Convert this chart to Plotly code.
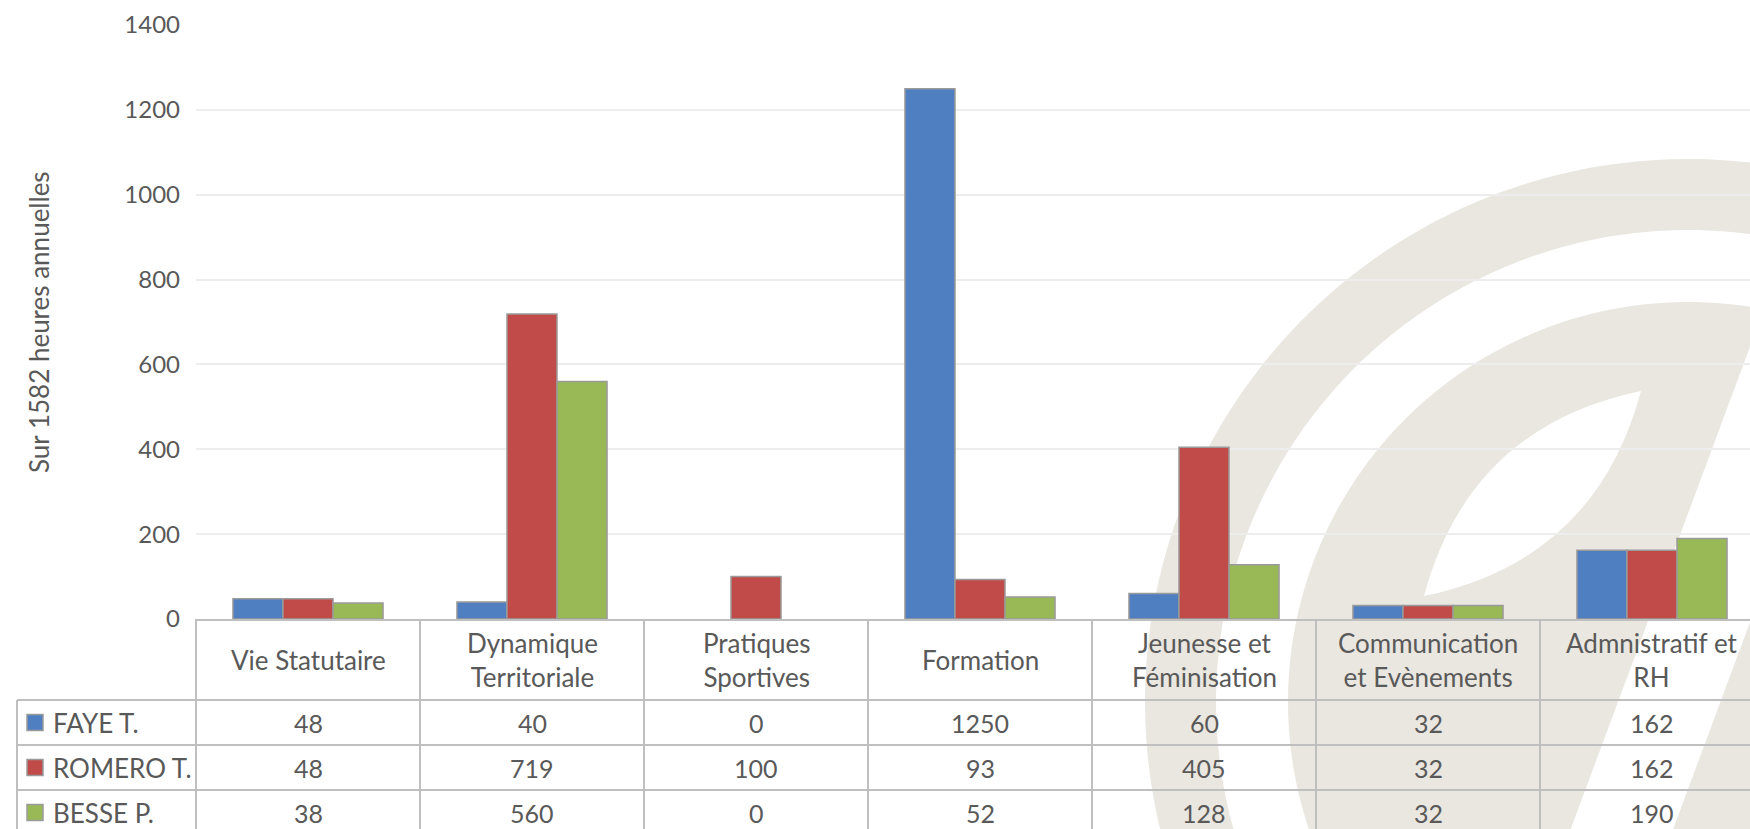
import numpy as np
import plotly.graph_objects as go

# ---------------- data ----------------
categories = ["Vie Statutaire", "Dynamique<br>Territoriale", "Pratiques<br>Sportives",
              "Formation", "Jeunesse et<br>Féminisation", "Communication<br>et Evènements",
              "Admnistratif et<br>RH"]
series_names = ["FAYE T.", "ROMERO T.", "BESSE P."]
faye = [48, 40, 0, 1250, 60, 32, 162]
romero = [48, 719, 100, 93, 405, 32, 162]
besse = [38, 560, 0, 52, 128, 32, 190]
y_ticks = [0, 200, 400, 600, 800, 1000, 1200, 1400]
y_title = "Sur 1582 heures annuelles"

series_values = [faye, romero, besse]
series_colors = ["#4F7FC0", "#C04B48", "#98B955"]

# ---------------- geometry (pixels) ----------------
FIG_W, FIG_H = 1750, 829
L, T = 196, 25            # plot left / top
ZERO_Y = 619              # plot bottom (y=0)
PW = FIG_W - L
PH = ZERO_Y - T
COL_W = 224
XMIN = -0.5
XMAX = XMIN + PW / COL_W
FONT = "Lato"
FS_TXT = 26
FS_NUM = 25
FS_TICK = 24
TXT = "#595959"
LINE = "#BFBFBF"
WM = "#E9E7E0"

def px_x(X):
    return (X - L) / PW

def px_y(Y):
    return (ZERO_Y - Y) / PH

def cat_x_paper(v):
    return (v - XMIN) / (XMAX - XMIN)

fig = go.Figure()
x_idx = list(range(len(categories)))
for name, vals, col in zip(series_names, series_values, series_colors):
    fig.add_trace(go.Bar(x=x_idx, y=vals, name=name,
                         marker=dict(color=col,
                                     line=dict(color="#9A9A9A",
                                               width=[0 if v == 0 else 1.5 for v in vals]))))

shapes = []

# ---- watermark (background logo) ----
def _pt(x, y):
    return f"{px_x(x):.5f},{px_y(y):.5f}"

def circle_pts(cx, cy, r, n=240, rev=False):
    a = np.linspace(0, 2 * np.pi, n)
    if rev:
        a = a[::-1]
    return [(cx + r * np.cos(t), cy + r * np.sin(t)) for t in a]

def sub_path(pts):
    return "M " + " L ".join(_pt(x, y) for x, y in pts) + " Z"

def ring_path(cx, cy, ro, ri):
    p = sub_path(circle_pts(cx, cy, ro))
    if ri > 0:
        p += " " + sub_path(circle_pts(cx, cy, ri, rev=True))
    return p

def lens_path(p1, p2, half_w):
    p1 = np.array(p1, float); p2 = np.array(p2, float)
    m = (p1 + p2) / 2
    d = p2 - p1
    nrm = np.array([-d[1], d[0]]) / np.linalg.norm(d)
    c1 = m + 2 * half_w * nrm
    c2 = m - 2 * half_w * nrm
    return f"M {_pt(*p1)} Q {_pt(*c1)} {_pt(*p2)} Q {_pt(*c2)} {_pt(*p1)} Z"

def band_path(p1, p2, half_w):
    p1 = np.array(p1, float); p2 = np.array(p2, float)
    d = p2 - p1
    nrm = np.array([-d[1], d[0]]) / np.linalg.norm(d) * half_w
    pts = [p1 + nrm, p2 + nrm, p2 - nrm, p1 - nrm]
    return sub_path([tuple(p) for p in pts])

CX, CY = 1688, 702
wm_shapes = [
    (ring_path(CX, CY, 543, 472), WM),
    (ring_path(CX, CY, 400, 0), WM),
    (lens_path((1424, 596), (1641, 391), 46), "white"),
    (band_path((1590, 915), (1800, 350), 48), "white"),
]
for path, fc in wm_shapes:
    shapes.append(dict(type="path", xref="paper", yref="paper", layer="below",
                       path=path, fillcolor=fc, line=dict(width=0)))

# ---- data table grid ----
ROW_TOP = 700
ROW_H = 45
row_lines = [ROW_TOP + i * ROW_H for i in range(4)]
for Y in row_lines:
    shapes.append(dict(type="line", xref="paper", yref="paper",
                       x0=px_x(17), x1=px_x(FIG_W + 20), y0=px_y(Y), y1=px_y(Y),
                       line=dict(color=LINE, width=2)))
shapes.append(dict(type="line", xref="paper", yref="paper",
                   x0=px_x(17), x1=px_x(17), y0=px_y(ROW_TOP), y1=px_y(FIG_H + 20),
                   line=dict(color=LINE, width=2)))
for k in range(len(categories) + 1):
    xp = cat_x_paper(k - 0.5)
    shapes.append(dict(type="line", xref="paper", yref="paper",
                       x0=xp, x1=xp, y0=0, y1=px_y(FIG_H + 20),
                       line=dict(color=LINE, width=2)))

annotations = []
HEADER_CY = (ZERO_Y + ROW_TOP) / 2
for i, c in enumerate(categories):
    annotations.append(dict(x=i, xref="x", y=px_y(HEADER_CY), yref="paper",
                            text=c, showarrow=False, xanchor="center", yanchor="middle",
                            font=dict(family=FONT, size=FS_TXT, color=TXT)))
for r, (name, vals, col) in enumerate(zip(series_names, series_values, series_colors)):
    cy = ROW_TOP + ROW_H * r + ROW_H / 2
    for i, v in enumerate(vals):
        annotations.append(dict(x=i, xref="x", y=px_y(cy), yref="paper",
                                text=str(v), showarrow=False, xanchor="center", yanchor="middle",
                                font=dict(family=FONT, size=FS_NUM, color=TXT)))
    annotations.append(dict(x=px_x(51), xref="paper", y=px_y(cy), yref="paper",
                            text=name, showarrow=False, xanchor="left", yanchor="middle",
                            font=dict(family=FONT, size=FS_TXT, color=TXT)))
    shapes.append(dict(type="rect", xref="paper", yref="paper",
                       x0=px_x(27), x1=px_x(43), y0=px_y(cy - 8), y1=px_y(cy + 8),
                       fillcolor=col, line=dict(color="#9A9A9A", width=1.5)))

annotations.append(dict(x=px_x(39), xref="paper", y=0.5, yref="paper", text=y_title,
                        textangle=-90, showarrow=False, xanchor="center", yanchor="middle",
                        font=dict(family=FONT, size=FS_TXT, color=TXT)))

fig.update_layout(
    width=FIG_W, height=FIG_H,
    margin=dict(l=L, r=0, t=T, b=FIG_H - ZERO_Y, pad=0),
    paper_bgcolor="white", plot_bgcolor="rgba(0,0,0,0)",
    barmode="group", bargap=0.33, bargroupgap=0,
    showlegend=False,
    shapes=shapes, annotations=annotations,
    font=dict(family=FONT, size=FS_NUM, color=TXT),
    xaxis=dict(range=[XMIN, XMAX], showticklabels=False, showgrid=False, zeroline=False,
               showline=True, linecolor=LINE, linewidth=2, ticks=""),
    yaxis=dict(range=[0, 1400], tickvals=y_ticks, showgrid=True, gridcolor="#EDEDED",
               gridwidth=1.5, zeroline=False, showline=False, ticks="",
               ticklabelstandoff=15, tickfont=dict(family=FONT, size=FS_TICK, color=TXT)),
)

fig.write_html("out.html", config={"displayModeBar": False},
               post_script="document.body.style.margin='0';document.body.style.overflow='hidden';")
